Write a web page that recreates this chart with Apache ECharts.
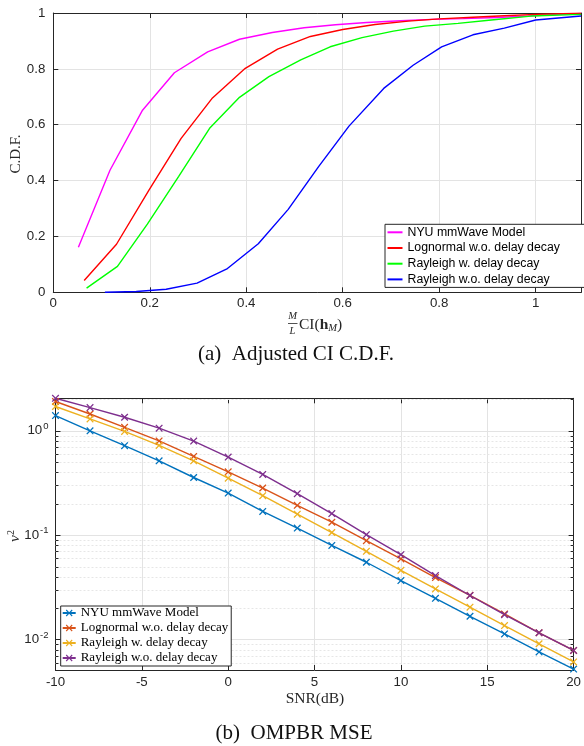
<!DOCTYPE html>
<html><head><meta charset="utf-8">
<script src="https://cdn.jsdelivr.net/npm/echarts@6/dist/echarts.min.js"></script>
<style>html,body{margin:0;padding:0;background:#fff}#c{width:584px;height:746px}</style>
</head><body><div id="c"></div>
<script>
// ---------- Chart (a): CDF ----------
const nyuX  = [0.052, 0.1175, 0.185, 0.251, 0.32, 0.386, 0.454, 0.52, 0.585, 0.65, 0.72, 0.785, 0.85, 0.92, 0.985, 1.05, 1.094];
const nyuY  = [0.161, 0.437, 0.652, 0.786, 0.861, 0.906, 0.930, 0.947, 0.958, 0.966, 0.972, 0.977, 0.980, 0.984, 0.989, 0.995, 0.998];
const lognX = [0.064, 0.131, 0.198, 0.265, 0.33, 0.398, 0.465, 0.533, 0.6, 0.667, 0.736, 0.80, 0.87, 0.935, 1.0, 1.094];
const lognY = [0.042, 0.172, 0.365, 0.551, 0.696, 0.802, 0.871, 0.916, 0.941, 0.959, 0.971, 0.979, 0.985, 0.990, 0.995, 0.999];
const rayWX = [0.069, 0.133, 0.195, 0.26, 0.324, 0.386, 0.447, 0.513, 0.574, 0.64, 0.705, 0.77, 0.839, 0.908, 0.99, 1.094];
const rayWY = [0.015, 0.093, 0.244, 0.415, 0.587, 0.698, 0.772, 0.832, 0.879, 0.912, 0.935, 0.953, 0.963, 0.975, 0.989, 0.995];
const rayWoX = [0.107, 0.172, 0.234, 0.298, 0.361, 0.425, 0.487, 0.55, 0.613, 0.685, 0.746, 0.805, 0.87, 0.935, 1.0, 1.094];
const rayWoY = [0.0, 0.003, 0.011, 0.033, 0.085, 0.174, 0.297, 0.45, 0.595, 0.73, 0.813, 0.879, 0.922, 0.946, 0.975, 0.989];
const cdfNames = ['NYU mmWave Model', 'Lognormal w.o. delay decay', 'Rayleigh w. delay decay', 'Rayleigh w.o. delay decay'];

// ---------- Chart (b): MSE ----------
const snr = [-10, -8, -6, -4, -2, 0, 2, 4, 6, 8, 10, 12, 14, 16, 18, 20];
const mseNyu   = [1.40, 1.00, 0.72, 0.516, 0.357, 0.253, 0.169, 0.117, 0.0798, 0.055, 0.0367, 0.0248, 0.0167, 0.0113, 0.0076, 0.0052];
const mseLogn  = [1.91, 1.45, 1.08, 0.80, 0.568, 0.405, 0.283, 0.193, 0.133, 0.0886, 0.0592, 0.0392, 0.0265, 0.0176, 0.0116, 0.00785];
const mseRayW  = [1.71, 1.30, 0.986, 0.724, 0.516, 0.352, 0.239, 0.159, 0.106, 0.070, 0.046, 0.0305, 0.0204, 0.0136, 0.0091, 0.0061];
const mseRayWo = [2.05, 1.67, 1.35, 1.06, 0.797, 0.56, 0.382, 0.25, 0.161, 0.101, 0.065, 0.041, 0.0264, 0.0173, 0.0116, 0.00785];
const mseNames = ['NYU mmWave Model', 'Lognormal w.o. delay decay', 'Rayleigh w. delay decay', 'Rayleigh w.o. delay decay'];
const logMinor = [0.006, 0.007, 0.008, 0.009, 0.02, 0.03, 0.04, 0.05, 0.06, 0.07, 0.08, 0.09, 0.2, 0.3, 0.4, 0.5, 0.6, 0.7, 0.8, 0.9, 2];

const cdfColors = ['#ff00ff', '#ff0000', '#00ff00', '#0000ff'];
const mseColors = ['#0072bd', '#d95319', '#edb120', '#7e2f8e'];
const AX = '#262626', GRID = '#e3e3e3';
const SANS = 'Liberation Sans, Arial, sans-serif';
const SERIF = 'Liberation Serif, Times New Roman, serif';
const CROSS = 'path://M0,1.2L1.2,0L5,3.8L8.8,0L10,1.2L6.2,5L10,8.8L8.8,10L5,6.2L1.2,10L0,8.8L3.8,5Z';
const TAG = '\u200b'; // keeps the two legends' series names distinct
const strip = n => n.replace(/\u200b/g, '');

const zip = (xs, ys) => xs.map((x, i) => [x, ys[i]]);
const labelStyle = {color: AX, fontFamily: SANS, fontSize: 13.3};

function tickAxis(base) {
  return Object.assign({
    axisLine: {show: true, onZero: false, lineStyle: {color: AX, width: 1}},
    axisTick: {show: true, inside: true, length: 5, lineStyle: {color: AX}},
    axisLabel: {show: false},
    splitLine: {show: false}
  }, base);
}

const chart = echarts.init(document.getElementById('c'), null, {renderer: 'canvas'});

const option = {
  animation: false,
  backgroundColor: '#fff',
  grid: [
    {left: 53.3, top: 13, width: 530.5, height: 279.3},
    {left: 55.5, top: 398.3, width: 520, height: 271.7}
  ],
  xAxis: [
    {type: 'value', gridIndex: 0, min: 0, max: 1.094, interval: 0.2,
     axisLine: {onZero: false, lineStyle: {color: AX}},
     axisTick: {inside: true, length: 5, lineStyle: {color: AX}},
     axisLabel: Object.assign({margin: 5, formatter: v => (Math.abs(v / 0.2 - Math.round(v / 0.2)) < 1e-6 ? String(+v.toFixed(1)) : '')}, labelStyle),
     splitLine: {show: true, lineStyle: {color: GRID, width: 1}}},
    tickAxis({type: 'value', gridIndex: 0, position: 'top', min: 0, max: 1.094, interval: 0.2}),
    {type: 'value', gridIndex: 1, min: -10, max: 20, interval: 5,
     axisLine: {onZero: false, lineStyle: {color: AX}},
     axisTick: {inside: true, length: 5, lineStyle: {color: AX}},
     axisLabel: Object.assign({margin: 6}, labelStyle),
     splitLine: {show: true, lineStyle: {color: GRID, width: 1}}},
    tickAxis({type: 'value', gridIndex: 1, position: 'top', min: -10, max: 20, interval: 5})
  ],
  yAxis: [
    {type: 'value', gridIndex: 0, min: 0, max: 1, interval: 0.2,
     axisLine: {show: true, onZero: false, lineStyle: {color: AX}},
     axisTick: {show: true, inside: true, length: 5, lineStyle: {color: AX}},
     axisLabel: Object.assign({margin: 8, formatter: v => String(+v.toFixed(1))}, labelStyle),
     splitLine: {show: true, lineStyle: {color: GRID, width: 1}}},
    tickAxis({type: 'value', gridIndex: 0, position: 'right', min: 0, max: 1, interval: 0.2}),
    {type: 'log', logBase: 10, gridIndex: 1, min: 0.0051, max: 2.05,
     axisLine: {show: true, onZero: false, lineStyle: {color: AX}},
     axisTick: {show: true, inside: true, length: 5, lineStyle: {color: AX}},
     axisLabel: {margin: 7,
       formatter: v => {
         const l = Math.log10(v), e = Math.round(l);
         if (Math.abs(l - e) > 1e-6) return '';
         return '{b|10}{s|' + e + '}';
       },
       rich: {
         b: {fontFamily: SANS, fontSize: 13.3, color: AX},
         s: {fontFamily: SANS, fontSize: 9.5, color: AX, padding: [0, 0, 9, 1]}
       }},
     splitLine: {show: true, lineStyle: {color: GRID, width: 1}}},
    tickAxis({type: 'log', logBase: 10, gridIndex: 1, position: 'right', min: 0.0051, max: 2.05})
  ],
  legend: [
    {data: cdfNames, orient: 'vertical', left: 385, top: 224.3,
     padding: [1, 25, 1, 1.5], itemGap: 1.7, itemWidth: 15, itemHeight: 14,
     itemStyle: {opacity: 0},
     backgroundColor: '#fff', borderColor: AX, borderWidth: 1, borderRadius: 0,
     textStyle: {fontFamily: SANS, fontSize: 12.3, color: '#000', lineHeight: 14}},
    {data: mseNames.map(n => n + TAG), orient: 'vertical', left: 60.7, top: 606,
     padding: [0, 3, 1, 1], itemGap: 1, itemWidth: 13, itemHeight: 8.5,
     formatter: strip,
     backgroundColor: '#fff', borderColor: AX, borderWidth: 1, borderRadius: 0,
     textStyle: {fontFamily: SERIF, fontSize: 13, color: '#000', lineHeight: 14}}
  ],
  series: [
    ...[[nyuX, nyuY], [lognX, lognY], [rayWX, rayWY], [rayWoX, rayWoY]].map((d, i) => ({
      type: 'line', name: cdfNames[i], xAxisIndex: 0, yAxisIndex: 0,
      data: zip(d[0], d[1]), symbol: 'none', z: 3,
      lineStyle: {color: cdfColors[i], width: 1.4}, itemStyle: {color: cdfColors[i]}
    })),
    {type: 'custom', xAxisIndex: 2, yAxisIndex: 2, silent: true, z: 1,
     data: logMinor.map(v => [-10, v]),
     renderItem: (params, api) => {
       const p = api.coord([api.value(0), api.value(1)]);
       const x0 = params.coordSys.x, x1 = x0 + params.coordSys.width, y = Math.round(p[1]) + 0.5;
       return {type: 'group', children: [
         {type: 'line', shape: {x1: x0, y1: y, x2: x1, y2: y}, style: {stroke: '#e6e6e6', lineWidth: 1, lineDash: [2, 2]}},
         {type: 'line', shape: {x1: x0, y1: y, x2: x0 + 3, y2: y}, style: {stroke: AX, lineWidth: 1}},
         {type: 'line', shape: {x1: x1 - 3, y1: y, x2: x1, y2: y}, style: {stroke: AX, lineWidth: 1}}
       ]};
     }},
    ...[mseNyu, mseLogn, mseRayW, mseRayWo].map((d, i) => ({
      type: 'line', name: mseNames[i] + TAG, xAxisIndex: 2, yAxisIndex: 2,
      data: zip(snr, d), symbol: CROSS, symbolSize: 7.5, showSymbol: true, z: 3,
      lineStyle: {color: mseColors[i], width: 1.4}, itemStyle: {color: mseColors[i]}
    }))
  ],
  graphic: [
    // chart (a) axis labels
    {type: 'text', x: 16, y: 154, rotation: Math.PI / 2,
     style: {text: 'C.D.F.', font: '15px ' + SERIF, fill: AX, align: 'center', verticalAlign: 'middle'}},
    {type: 'text', x: 292.5, y: 316, style: {text: 'M', font: 'italic 10.5px ' + SERIF, fill: AX, align: 'center', verticalAlign: 'middle'}},
    {type: 'line', shape: {x1: 288, y1: 323.5, x2: 297.5, y2: 323.5}, style: {stroke: AX, lineWidth: 0.8}},
    {type: 'text', x: 292.5, y: 331, style: {text: 'L', font: 'italic 10.5px ' + SERIF, fill: AX, align: 'center', verticalAlign: 'middle'}},
    {type: 'text', x: 299, y: 325,
     style: {text: '{n|CI(}{h|h}{m|M}{n|)}', align: 'left', verticalAlign: 'middle',
       rich: {n: {font: '15.5px ' + SERIF, fill: AX},
              h: {font: 'bold 15.5px ' + SERIF, fill: AX},
              m: {font: 'italic 10.5px ' + SERIF, fill: AX, padding: [6, 0, 0, 0]}}}},
    {type: 'text', x: 296, y: 354,
     style: {text: '(a)  Adjusted CI C.D.F.', font: '21px ' + SERIF, fill: '#111', align: 'center', verticalAlign: 'middle'}},
    // chart (b) axis labels
    {type: 'text', x: 15, y: 536, rotation: Math.PI / 2,
     style: {text: '{n|ν}{s|2}', align: 'center', verticalAlign: 'middle',
       rich: {n: {font: 'italic 15.5px ' + SERIF, fill: AX}, s: {font: '10px ' + SERIF, fill: AX, padding: [0, 0, 8, 0]}}}},
    {type: 'text', x: 315, y: 698.5,
     style: {text: 'SNR(dB)', font: '15.5px ' + SERIF, fill: AX, align: 'center', verticalAlign: 'middle'}},
    {type: 'text', x: 294, y: 733.3,
     style: {text: '(b)  OMPBR MSE', font: '21px ' + SERIF, fill: '#111', align: 'center', verticalAlign: 'middle'}}
  ]
};
chart.setOption(option);
</script>
</body></html>
